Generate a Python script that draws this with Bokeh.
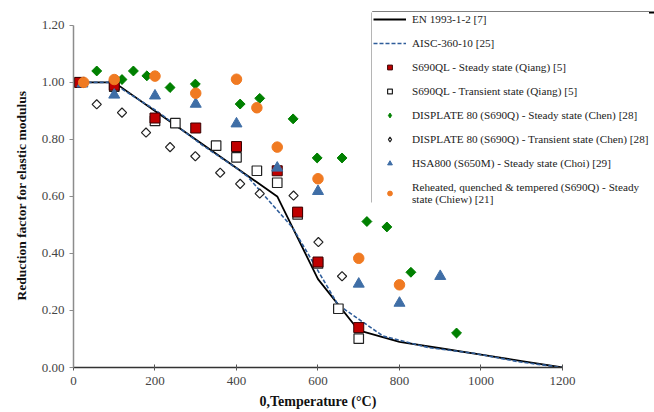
import numpy as np
from bokeh.plotting import figure
from bokeh.models import (Range1d, FixedTicker, NumeralTickFormatter, Legend, LegendItem,
                          BoxAnnotation, Title)
from bokeh.embed import file_html
from bokeh.resources import INLINE

# ---- data ----
en_T = [20, 100, 200, 300, 400, 500, 600, 700, 800, 900, 1000, 1100, 1200]
en_k = [1.0, 1.0, 0.9, 0.8, 0.7, 0.6, 0.31, 0.13, 0.09, 0.0675, 0.045, 0.0225, 0.0]

aisc_T = [20, 93, 204, 316, 399, 427, 538, 649, 760, 871, 982, 1093, 1200]
aisc_k = [1.0, 1.0, 0.90, 0.78, 0.70, 0.67, 0.49, 0.22, 0.11, 0.07, 0.05, 0.02, 0.0]

qs_T = [15, 100, 200, 300, 400, 500, 550, 600, 700]
qs_k = [1.00, 0.99, 0.875, 0.84, 0.775, 0.69, 0.545, 0.37, 0.14]

qt_T = [15, 100, 200, 250, 350, 400, 450, 500, 550, 600, 650, 700]
qt_k = [1.00, 0.985, 0.865, 0.857, 0.778, 0.737, 0.69, 0.648, 0.537, 0.365, 0.206, 0.101]

cs_T = [57, 119, 147, 180, 237, 299, 409, 457, 539, 598, 659, 720, 769, 828, 940]
cs_k = [1.04, 1.01, 1.04, 1.023, 0.982, 0.994, 0.924, 0.944, 0.872, 0.735, 0.735, 0.512, 0.493, 0.334, 0.121]

ct_T = [57, 119, 178, 237, 299, 360, 409, 457, 540, 601, 659]
ct_k = [0.923, 0.894, 0.824, 0.773, 0.741, 0.683, 0.644, 0.61, 0.603, 0.44, 0.32]

hs_T = [22, 100, 200, 300, 400, 500, 600, 700, 800, 900]
hs_k = [0.995, 0.956, 0.953, 0.924, 0.855, 0.70, 0.618, 0.293, 0.226, 0.32]

rq_T = [25, 100, 200, 300, 400, 450, 500, 600, 700, 800]
rq_k = [1.0, 1.01, 1.022, 0.962, 1.011, 0.911, 0.773, 0.662, 0.383, 0.29]

labels = [
    "EN 1993-1-2 [7]",
    "AISC-360-10 [25]",
    "S690QL - Steady state (Qiang) [5]",
    "S690QL - Transient state (Qiang) [5]",
    "DISPLATE 80 (S690Q) - Steady state (Chen) [28]",
    "DISPLATE 80 (S690Q) - Transient state (Chen) [28]",
    "HSA800 (S650M) - Steady state (Choi) [29]",
    "Reheated, quenched & tempered (S690Q) - Steady\nstate (Chiew) [21]",
]
x_title = "0,Temperature (\u00b0C)"
y_title = "Reduction factor for elastic modulus"
x_ticks = [0, 200, 400, 600, 800, 1000, 1200]
y_ticks = [0.0, 0.2, 0.4, 0.6, 0.8, 1.0, 1.2]

SERIF = "Liberation Serif"
GREEN = "#008000"

p = figure(width=654, height=412, output_backend="svg", toolbar_location=None,
           x_range=Range1d(0, 1425.8), y_range=Range1d(0, 1.2872),
           min_border_left=73, min_border_right=0, min_border_top=0, min_border_bottom=43)
p.outline_line_color = None
p.xgrid.visible = False
p.ygrid.visible = False
p.background_fill_color = "white"

# axes
p.xaxis.bounds = (0, 1200)
p.yaxis.bounds = (0, 1.2)
p.xaxis.ticker = FixedTicker(ticks=x_ticks)
p.yaxis.ticker = FixedTicker(ticks=y_ticks)
p.yaxis.formatter = NumeralTickFormatter(format="0.00")
for ax in (p.xaxis, p.yaxis):
    ax.minor_tick_line_color = None
    ax.major_label_text_font = SERIF
    ax.major_label_text_font_size = "13px"
    ax.major_label_text_color = "#444444"
p.xaxis.axis_line_color = "#333333"
p.xaxis.axis_line_width = 1.5
p.xaxis.major_tick_line_color = "#555555"
p.xaxis.major_tick_in = 3
p.xaxis.major_tick_out = 3
p.xaxis.major_label_standoff = 6

p.yaxis.axis_line_color = "#8c8c8c"
p.yaxis.axis_line_width = 1.5
p.yaxis.major_tick_line_color = "#8c8c8c"
p.yaxis.major_tick_in = 0
p.yaxis.major_tick_out = 4
p.yaxis.major_label_standoff = 5

# axis titles (centred on the 0-1200 / 0-1.2 axis extents)
p.add_layout(Title(text=x_title, align="left", offset=186, standoff=8,
                   text_font=SERIF, text_font_size="14px", text_font_style="bold",
                   text_color="#111111"), "below")
p.add_layout(Title(text=y_title, align="left", offset=67, standoff=20,
                   text_font=SERIF, text_font_size="13.5px", text_font_style="bold",
                   text_color="#111111"), "left")

# lines
r_en = p.line(en_T, en_k, line_color="black", line_width=1.8)
r_aisc = p.line(aisc_T, aisc_k, line_color="#2f5d9a", line_width=1.6, line_dash="4 2")

# markers
r_qt = p.scatter(qt_T, qt_k, marker="square", size=9.5, fill_color="white",
                 line_color="#222222", line_width=1.2)
r_qs = p.scatter(qs_T, qs_k, marker="square", size=10, fill_color="#c00000",
                 line_color="#3a0000", line_width=1)
# diamond series: an unrotated "diamond" (used by the legend) under a rotated square
lg_cs = p.scatter(cs_T, cs_k, marker="diamond", size=8.5, fill_color=GREEN, line_color=GREEN)
r_cs = p.scatter(cs_T, cs_k, marker="square", angle=np.pi / 4, size=7,
                 fill_color=GREEN, line_color=GREEN)
lg_ct = p.scatter(ct_T, ct_k, marker="diamond", size=7, fill_color="white",
                  line_color="#222222", line_width=1.2)
r_ct = p.scatter(ct_T, ct_k, marker="square", angle=np.pi / 4, size=6.5,
                 fill_color="white", line_color="#222222", line_width=1.2)
r_hs = p.scatter(hs_T, hs_k, marker="triangle", size=11, fill_color="#3f6ea6",
                 line_color="#3f6ea6")
r_rq = p.scatter(rq_T, rq_k, marker="circle", size=10.5, fill_color="#f07a22",
                 line_color="#f07a22")

renderers = [r_en, r_aisc, r_qs, r_qt, lg_cs, lg_ct, r_hs, r_rq]
items = [LegendItem(label=l, renderers=[r]) for l, r in zip(labels, renderers)]
legend = Legend(items=items, location=(299, 161), orientation="vertical",
                label_text_font=SERIF, label_text_font_size="11.2px",
                label_text_color="#222222", label_height=12, label_standoff=6,
                label_text_line_height=1.6,
                glyph_width=33, glyph_height=12, spacing=12, padding=1, margin=0,
                border_line_alpha=0,
                background_fill_color="white", background_fill_alpha=1)
p.add_layout(legend, "center")

# legend box edges (decoration): thick black top, thin grey left
p.add_layout(BoxAnnotation(left=733, right=1500, top=1.2488, bottom=1.2418,
                           fill_color="black", fill_alpha=1, line_alpha=0))
p.add_layout(BoxAnnotation(left=731, right=735, top=1.2453, bottom=0.579,
                           fill_color="#888888", fill_alpha=1, line_alpha=0))

html = file_html(p, INLINE)
open("out.html", "w").write(html)
